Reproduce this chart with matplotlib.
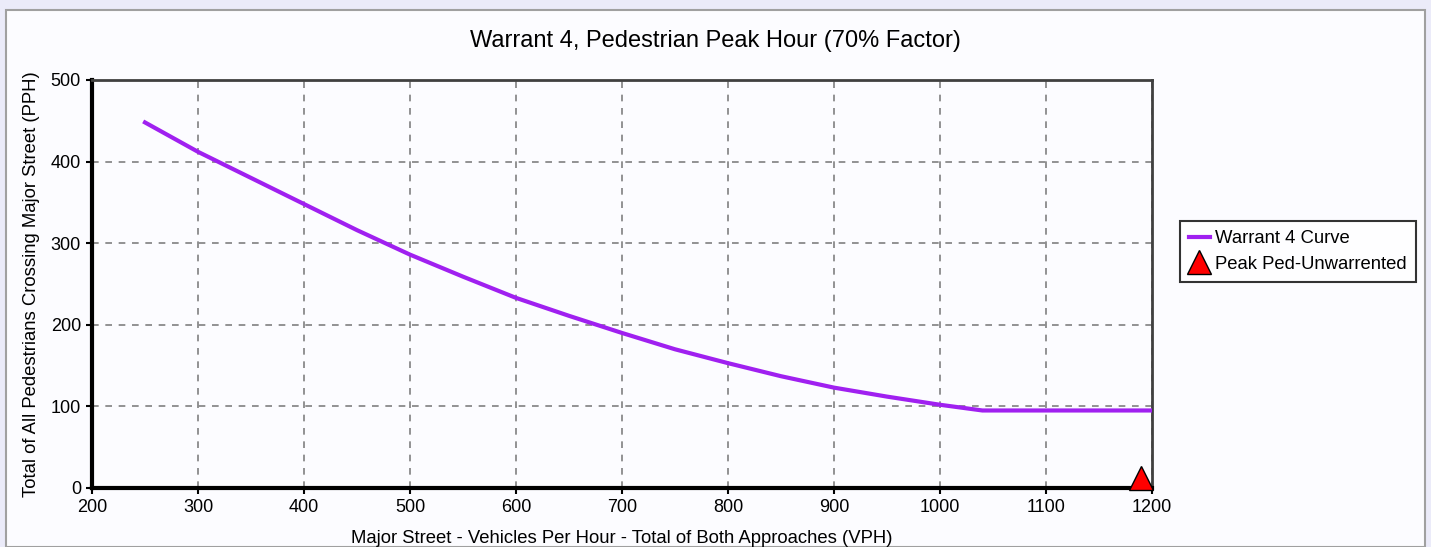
import numpy as np
import matplotlib
matplotlib.use("Agg")
import matplotlib.pyplot as plt
from matplotlib.patches import Rectangle

# warrant 4 curve
vph = [250, 300, 350, 400, 450, 500, 550, 600, 650, 700, 750, 800, 850, 900, 950, 1000, 1040, 1200]
pph = [448, 412, 380, 348, 316, 286, 259, 233, 211, 190, 170, 153, 137, 123, 112, 102, 95, 95]

peak_vph = [1190]
peak_pph = [12]

plt.rcParams['font.family'] = ['Liberation Sans', 'DejaVu Sans']

fig = plt.figure(figsize=(14.31, 5.47), dpi=100, facecolor='#ebebf9')
fig.patches.append(Rectangle((6 / 1431, 0), 1419 / 1431, 1 - 10 / 547, transform=fig.transFigure,
                             facecolor='#fcfcff', edgecolor='#a0a0a0', linewidth=1.5, zorder=-10))

ax = fig.add_axes([92 / 1431, 1 - 488 / 547, 1060 / 1431, 408 / 547])
ax.set_facecolor('#fcfcff')

ax.plot(vph, pph, color='#a020f0', linewidth=3, label='Warrant 4 Curve', zorder=3)
ax.plot(peak_vph, peak_pph, linestyle='none', marker='^', markersize=17, color='red',
        markeredgecolor='black', markeredgewidth=1, label='Peak Ped-Unwarrented', zorder=4, clip_on=False)

ax.set_xlim(200, 1200)
ax.set_ylim(0, 500)
ax.set_xticks(np.arange(200, 1201, 100))
ax.set_yticks(np.arange(0, 501, 100))
ax.grid(True, color='#808080', linestyle=(0, (4, 4)), linewidth=1.2)
ax.tick_params(labelsize=13, length=4, width=1.5, colors='black', pad=4)

for s in ['left', 'bottom']:
    ax.spines[s].set_linewidth(3)
    ax.spines[s].set_color('black')
for s in ['top', 'right']:
    ax.spines[s].set_linewidth(2)
    ax.spines[s].set_color('#404040')

ax.set_xlabel('Major Street - Vehicles Per Hour - Total of Both Approaches (VPH)', fontsize=13.3, labelpad=10)
ax.set_ylabel('Total of All Pedestrians Crossing Major Street (PPH)', fontsize=13.3, labelpad=8)
fig.text(0.5, 1 - 41 / 547, 'Warrant 4, Pedestrian Peak Hour (70% Factor)', ha='center', va='center', fontsize=17)

leg = ax.legend(loc='upper left', bbox_to_anchor=(1180 / 1431, 1 - 221 / 547), bbox_transform=fig.transFigure,
                fontsize=13.3, frameon=True, fancybox=False, handlelength=1.1, handletextpad=0.3,
                borderaxespad=0, borderpad=0.5, labelspacing=0.45, markerscale=1.0)
leg.get_frame().set_edgecolor('black')
leg.get_frame().set_linewidth(1.5)

plt.savefig('out.png', dpi=100, facecolor=fig.get_facecolor())
